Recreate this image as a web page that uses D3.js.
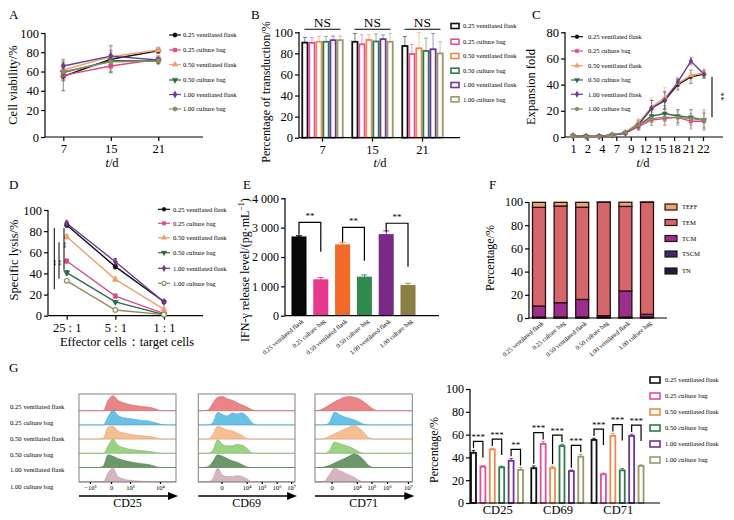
<!DOCTYPE html>
<html><head><meta charset="utf-8">
<script src="https://cdn.jsdelivr.net/npm/d3@7"></script>
<style>body{margin:0;background:#fff}</style>
</head><body><svg id="c" width="734" height="520"></svg>
<script>
// ---------------- DATA ----------------
const groups = ["0.25 ventilated flask","0.25 culture bag","0.50 ventilated flask","0.50 culture bag","1.00 ventilated flask","1.00 culture bag"];
// A: cell viability
const daysA = ["7","15","21"];
const viability = [[55,72.7,81.6],[56,65.7,72.7],[61.6,75.4,82.3],[58.8,71.2,71],[65.7,76,72],[59.8,70,71]];
const viabilityErr = [[15,14,3],[6,5,4],[10,12,3],[8,6,3],[7,6,3],[8,10,3]];
// B: transduction
const daysB = ["7","15","21"];
const transduction = [[90.2,91,87],[90,88.6,79.4],[91,92.7,84.8],[91,91.3,82.3],[92.5,93.5,83.9],[92.5,91,80]];
const transductionErr = [[5,8,9],[5,9,9],[5,5,15],[5,7,12],[4,4,15],[4,8,11]];
const sigB = ["NS","NS","NS"];
// C: expansion
const daysC = ["1","2","4","7","9","12","15","18","21","22"];
const expansion = [
  [1,0.5,0.5,1.5,3,10,22,28,40,46,48],
  [1,0.5,0.5,1.5,3,8,13,14,15,12,12],
  [1,0.5,0.5,1.5,3.5,11,23,30,41,47,49],
  [1,0.5,0.5,1.5,3,9,16,18,16,15,13],
  [1,0.5,0.5,1.5,3,9,22,28,42,58,48],
  [1,0.5,0.5,1.5,3.5,9,14,15,15,14,13]];
const expansionErr = [
  [0.5,0.3,0.3,0.5,1,3,6,7,4,5,3],
  [0.5,0.3,0.3,0.5,1,3,4,5,5,6,6],
  [0.5,0.3,0.3,0.5,1,3,7,8,4,4,3],
  [0.5,0.3,0.3,0.5,1,3,5,6,5,6,6],
  [0.5,0.3,0.3,0.5,1,3,6,6,3,3,3],
  [0.5,0.3,0.3,0.5,1,3,5,6,6,7,8]];
// D: cytotoxicity
const ratios = ["25 : 1","5 : 1","1 : 1"];
const lysis = [[85.8,46.4,13.2],[51.7,18.6,2],[74.7,34.4,6],[40.7,13,1],[87.4,51,13],[33,5.4,1]];
const lysisErr = [[2,2,1],[2,2,1],[2,2,1],[2,1,1],[2,3,1],[1,1,1]];
// E: IFN-gamma
const ifn = [2700,1240,2430,1330,2780,1045];
const ifnErr = [25,60,70,60,110,60];
const ifnBrackets = [[0,1,3180,2760,2180,"**"],[2,3,3010,2520,1870,"**"],[4,5,3150,2860,1670,"**"]];
// F: subsets
const subsetNames = ["TN","TSCM","TCM","TEM","TEFF"];
const TN   = [0.3,0.3,0.3,0.3,0.3,0.3];
const TSCM = [0.5,0.5,0.5,0.5,0.5,0.5];
const TCM  = [9.5,12.4,15.2,1.2,22.5,2.4];
const TEM  = [85.1,83.3,79.5,97.7,72.9,96.5];
const TEFF = [4.3,3.2,4.2,0.3,3.6,0.3];
// G: activation markers
const markers = ["CD25","CD69","CD71"];
const activation = [[44,30.5,55.3],[31.8,51.8,25.2],[47,30.5,58.8],[31.3,50,28.6],[37,28,58.8],[29,40.6,32.5]];
const activationErr = [[2,2,1.5],[1,2,1],[1,1.5,2],[1,1.5,1.5],[2,1,1.5],[2,2,1]];
const sigG = [["***","***","**"],["***","***","***"],["***","***","***"]];
// G: histogram densities (21 points across each plot)
const cd25Density = [
 [0,0,0,0,0,0,0.7,1.0,0.7,0.55,0.45,0.38,0.33,0.28,0.25,0.2,0.1,0,0,0,0],
 [0,0,0,0,0,0,0.55,1.0,0.65,0.5,0.45,0.4,0.35,0.3,0.28,0.2,0.12,0.03,0,0,0],
 [0,0,0,0,0,0.05,0.8,0.85,0.55,0.42,0.35,0.3,0.25,0.22,0.2,0.15,0.08,0,0,0,0],
 [0,0,0,0,0,0,0.5,0.95,0.55,0.4,0.3,0.25,0.2,0.18,0.15,0.1,0.03,0,0,0,0],
 [0,0,0,0,0,0.1,0.85,0.75,0.6,0.5,0.42,0.35,0.3,0.25,0.22,0.15,0.05,0,0,0,0],
 [0,0,0,0,0,0,0.6,0.9,0.35,0.2,0.12,0.08,0.05,0.03,0.02,0,0,0,0,0,0]];
const cd69Density = [
 [0,0,0.05,0.5,0.9,0.95,0.8,0.7,0.55,0.4,0.25,0.08,0,0,0,0,0,0,0,0,0],
 [0,0,0,0.15,0.85,0.7,0.6,0.8,0.75,0.8,0.6,0.2,0,0,0,0,0,0,0,0,0],
 [0,0,0,0.3,0.85,0.75,0.6,0.55,0.4,0.25,0.05,0,0,0,0,0,0,0,0,0,0],
 [0,0,0,0.2,0.9,0.6,0.5,0.5,0.6,0.55,0.35,0.05,0,0,0,0,0,0,0,0,0],
 [0,0,0.05,0.4,0.85,0.75,0.6,0.45,0.35,0.2,0.05,0,0,0,0,0,0,0,0,0,0],
 [0,0,0,0.2,0.9,0.45,0.35,0.35,0.4,0.35,0.2,0,0,0,0,0,0,0,0,0,0]];
const cd71Density = [
 [0,0.05,0.2,0.4,0.6,0.75,0.9,0.95,0.9,0.8,0.6,0.35,0.1,0,0,0,0,0,0,0,0],
 [0,0,0,0.2,0.85,0.7,0.55,0.45,0.35,0.2,0.05,0,0,0,0,0,0,0,0,0,0],
 [0,0,0.05,0.2,0.35,0.5,0.65,0.8,0.9,0.75,0.45,0.1,0,0,0,0,0,0,0,0,0],
 [0,0,0,0.2,0.75,0.65,0.55,0.45,0.3,0.1,0,0,0,0,0,0,0,0,0,0,0],
 [0,0,0.05,0.15,0.3,0.45,0.6,0.75,0.9,0.8,0.5,0.15,0,0,0,0,0,0,0,0,0],
 [0,0,0.05,0.5,0.9,0.75,0.6,0.45,0.3,0.1,0,0,0,0,0,0,0,0,0,0,0]];
const histTicks = [
 [["−10³",0.113],["0",0.33],["10³",0.526],["10⁴",0.835]],
 [["0",0.24],["10⁴",0.5],["10⁵",0.656],["10⁶",0.81],["10⁷",0.96]],
 [["0",0.17],["10⁴",0.43],["10⁵",0.58],["10⁶",0.74],["10⁷",0.955]]];

// ---------------- STYLE ----------------
const serif = "'Liberation Serif','DejaVu Serif','Times New Roman',serif";
const lineColors = ["#111111","#dc4c8a","#efa071","#2f6a48","#6b3c8c","#8d8c5e"];
const barColorsE = ["#070707","#e8398c","#f26a2a","#2f8a50","#7a2a86","#8c7f45"];
const outlineColors = ["#111111","#e0509a","#f08a50","#2e7a50","#6e3496","#9b9868"];
const subsetColors = ["#1e1e3c","#3c2c6c","#9c2e8c","#d4676b","#e9a66e"];
const histColors = ["#e8797c","#5cbde3","#f7b98a","#93cf78","#5f8f5c","#d3b0b8"];
const histStroke = ["#c45a5d","#3c9cc3","#d99a6a","#73af58","#3f6f3c","#b3909a"];

const svg = d3.select("#c");
svg.append("rect").attr("width",734).attr("height",520).attr("fill","#fff");

function styleAx(sel, fs){
  sel.attr("font-family", serif).attr("font-size", fs);
  sel.selectAll(".domain").remove();
  sel.selectAll(".tick line").attr("stroke","#000").attr("stroke-width",1.2);
  sel.selectAll(".tick text").attr("fill","#000");
}
function ln(g,x1,y1,x2,y2,c="#000",w=1.2){
  return g.append("line").attr("x1",x1).attr("y1",y1).attr("x2",x2).attr("y2",y2).attr("stroke",c).attr("stroke-width",w);
}
function txt(g,x,y,s,fs,anchor="middle",rot=null){
  const t = g.append("text").attr("x",x).attr("y",y).attr("font-family",serif).attr("font-size",fs).attr("text-anchor",anchor).attr("fill","#000").text(s);
  if(rot!==null) t.attr("transform",`rotate(${rot},${x},${y})`);
  return t;
}
const symTypes=[d3.symbolCircle,d3.symbolSquare,d3.symbolTriangle,d3.symbolTriangle,d3.symbolDiamond,d3.symbolCircle];
function marker(g,x,y,i,size,openLast){
  const open = openLast && i===5;
  g.append("path").attr("d",d3.symbol(symTypes[i],size)())
   .attr("transform",`translate(${x},${y})${i===3?" rotate(180)":""}`)
   .attr("fill",open?"#fff":lineColors[i]).attr("stroke",lineColors[i]).attr("stroke-width",open?1.1:0.4);
}
function errBar(g,x,y1,y2,c,cap,w=0.9){
  ln(g,x,y1,x,y2,c,w); ln(g,x-cap/2,y1,x+cap/2,y1,c,w); ln(g,x-cap/2,y2,x+cap/2,y2,c,w);
}
function lineLegend(g,mx,rows,tx,size,fs,openLast){
  groups.forEach((name,i)=>{
    ln(g,mx-6,rows[i],mx+6,rows[i],lineColors[i],1.2);
    marker(g,mx,rows[i],i,size,openLast);
    txt(g,tx,rows[i]+2.3,name,fs,"start");
  });
}
function panelLetter(x,y,s){ txt(svg,x,y,s,13,"start"); }
function tdLabel(g,x,y){
  const t = txt(g,x,y,"",12.5);
  t.append("tspan").attr("font-style","italic").text("t");
  t.append("tspan").text("/d");
}

// ---------------- A ----------------
{
  const g = svg.append("g");
  panelLetter(9,19,"A");
  const x = d3.scalePoint().domain(daysA).range([63.3,158.3]);
  const y = d3.scaleLinear().domain([-8,100]).range([137,33]);
  g.append("g").attr("transform","translate(45,0)")
   .call(d3.axisLeft(y).tickValues([-8,20,40,60,80,100]).tickFormat(d=>d<0?"0":d).tickSize(4).tickPadding(2)).call(styleAx,12.5);
  g.append("g").attr("transform","translate(0,137)")
   .call(d3.axisBottom(x).tickSize(4).tickPadding(3)).call(styleAx,12.5);
  ln(g,45,33,45,137); ln(g,45,137,203,137);
  viability.forEach((s,i)=>s.forEach((v,j)=>errBar(g,x(daysA[j]),y(v-viabilityErr[i][j]),y(v+viabilityErr[i][j]),d3.color(lineColors[i]).copy({opacity:0.55}),4)));
  viability.forEach((s,i)=>{
    g.append("path").datum(s).attr("d",d3.line().x((v,j)=>x(daysA[j])).y(v=>y(v)))
     .attr("fill","none").attr("stroke",lineColors[i]).attr("stroke-width",1.4);
  });
  viability.forEach((s,i)=>s.forEach((v,j)=>marker(g,x(daysA[j]),y(v),i,18)));
  lineLegend(g,175,[35,50,64.5,80,94.5,109],183,15,6.6,false);
  txt(g,17,85,"Cell viability/%",12.5,"middle",-90);
  tdLabel(g,112,167);
}

// ---------------- B ----------------
{
  const g = svg.append("g");
  panelLetter(251,19,"B");
  const xg = d3.scaleBand().domain(daysB).range([298,447]).paddingInner(0.12).paddingOuter(0.05);
  const xs = d3.scaleBand().domain(d3.range(6)).range([0,xg.bandwidth()]).padding(0.25);
  const y = d3.scaleLinear().domain([0,100]).range([137.7,32.3]);
  g.append("g").attr("transform","translate(299,0)")
   .call(d3.axisLeft(y).tickValues([0,20,40,60,80,100]).tickSize(4).tickPadding(2)).call(styleAx,12.5);
  g.append("g").attr("transform","translate(0,137.7)")
   .call(d3.axisBottom(xg).tickSize(4).tickPadding(3)).call(styleAx,12.5);
  transduction.forEach((s,i)=>s.forEach((v,j)=>{
    const bx = xg(daysB[j])+xs(i), cx = bx+xs.bandwidth()/2;
    errBar(g,cx,y(v),y(v+transductionErr[i][j]),d3.color(outlineColors[i]).copy({opacity:0.6}),4);
    g.append("rect").attr("x",bx).attr("y",y(v)).attr("width",xs.bandwidth()).attr("height",y(0)-y(v))
     .attr("fill","#fff").attr("stroke",outlineColors[i]).attr("stroke-width",1.8);
  }));
  ln(g,299,32,299,137.7); ln(g,299,137.7,460,137.7);
  daysB.forEach((d,j)=>{
    ln(g,xg(d)+4,29.3,xg(d)+xg.bandwidth()-4,29.3,"#000",1.1);
    txt(g,xg(d)+xg.bandwidth()/2,26.5,sigB[j],13.5);
  });
  const rows=[26,41.7,56,70.7,85,99.3];
  groups.forEach((n,i)=>{
    g.append("rect").attr("x",451).attr("y",rows[i]-2.5).attr("width",8).attr("height",5)
     .attr("fill","#fff").attr("stroke",outlineColors[i]).attr("stroke-width",1.6);
    txt(g,463,rows[i]+2.3,n,6.6,"start");
  });
  txt(g,270,92,"Percentage of transduction/%",12,"middle",-90);
  tdLabel(g,380,167);
}

// ---------------- C ----------------
{
  const g = svg.append("g");
  panelLetter(532,19,"C");
  const x = d3.scaleLinear().domain([0,10]).range([573,704]);
  const xl = d3.scalePoint().domain(daysC).range([573,703]);
  const y = d3.scaleLinear().domain([0,80]).range([137,32.3]);
  g.append("g").attr("transform","translate(565,0)")
   .call(d3.axisLeft(y).tickValues([0,20,40,60,80]).tickSize(4).tickPadding(2)).call(styleAx,12.5);
  g.append("g").attr("transform","translate(0,137)")
   .call(d3.axisBottom(xl).tickSize(4).tickPadding(3)).call(styleAx,12.5);
  ln(g,565,32,565,137); ln(g,565,137,723,137);
  expansion.forEach((s,i)=>s.forEach((v,j)=>errBar(g,x(j),y(Math.max(0,v-expansionErr[i][j])),y(v+expansionErr[i][j]),d3.color(lineColors[i]).copy({opacity:0.5}),3.5)));
  expansion.forEach((s,i)=>{
    g.append("path").datum(s).attr("d",d3.line().x((v,j)=>x(j)).y(v=>y(v)))
     .attr("fill","none").attr("stroke",lineColors[i]).attr("stroke-width",1.4);
  });
  expansion.forEach((s,i)=>s.forEach((v,j)=>marker(g,x(j),y(v),i,12)));
  lineLegend(g,577,[36.7,51,65.7,80,94.3,109],588,12,6.6,false);
  ln(g,712,y(46),712,y(15),"#000",1.1);
  txt(g,718,y(31),"**",9,"middle",90);
  txt(g,535,87,"Expansion fold",12.5,"middle",-90);
  tdLabel(g,643,167);
}

// ---------------- D ----------------
{
  const g = svg.append("g");
  panelLetter(9,189,"D");
  const x = d3.scalePoint().domain(ratios).range([66.7,164]);
  const y = d3.scaleLinear().domain([0,100]).range([315.7,210]);
  g.append("g").attr("transform","translate(48,0)")
   .call(d3.axisLeft(y).tickValues([0,20,40,60,80,100]).tickSize(4).tickPadding(2)).call(styleAx,12.5);
  g.append("g").attr("transform","translate(0,315.7)")
   .call(d3.axisBottom(x).tickSize(4).tickPadding(3)).call(styleAx,12.5);
  ln(g,48,210,48,315.7); ln(g,48,315.7,203,315.7);
  lysis.forEach((s,i)=>s.forEach((v,j)=>errBar(g,x(ratios[j]),y(Math.max(0,v-lysisErr[i][j])),y(v+lysisErr[i][j]),lineColors[i],3.5)));
  lysis.forEach((s,i)=>{
    g.append("path").datum(s).attr("d",d3.line().x((v,j)=>x(ratios[j])).y(v=>y(v)))
     .attr("fill","none").attr("stroke",lineColors[i]).attr("stroke-width",1.4);
  });
  lysis.forEach((s,i)=>s.forEach((v,j)=>marker(g,x(ratios[j]),y(v),i,17,true)));
  lineLegend(g,164,[209.3,223.3,237.7,252.7,268.3,283.3],173,13,6.6,true);
  // significance marks
  ln(g,54.3,y(83),54.3,y(25),"#000",1); txt(g,52,y(50),"**",6,"middle",90);
  ln(g,59,y(69.5),59,y(35),"#000",1);   txt(g,57,y(50),"**",6,"middle",90);
  ln(g,64,y(83),64,y(43),"#000",1);     txt(g,62,y(67),"**",6,"middle",90);
  txt(g,18,260,"Specific lysis/%",12.5,"middle",-90);
  txt(g,127,346,"Effector cells：target cells",12.5);
}

// ---------------- E ----------------
{
  const g = svg.append("g");
  panelLetter(243,189,"E");
  const x = d3.scaleBand().domain(groups).range([288.2,418.8]).paddingInner(0.31).paddingOuter(0.15);
  const y = d3.scaleLinear().domain([0,4000]).range([315.7,198.3]);
  g.append("g").attr("transform","translate(285,0)")
   .call(d3.axisLeft(y).tickValues([0,1000,2000,3000,4000]).tickFormat(d=>d===0?"0":d3.format(",")(d).replace(","," ")).tickSize(4).tickPadding(2)).call(styleAx,12);
  groups.forEach((n,i)=>{
    const cx = x(n)+x.bandwidth()/2;
    errBar(g,cx,y(ifn[i]-ifnErr[i]),y(ifn[i]+ifnErr[i]),d3.color(barColorsE[i]).brighter(0.4),6,1);
    g.append("rect").attr("x",x(n)).attr("y",y(ifn[i])).attr("width",x.bandwidth()).attr("height",y(0)-y(ifn[i])).attr("fill",barColorsE[i]);
    txt(g,cx+5,322,n,6.3,"end",-40);
  });
  ln(g,285,198,285,315.7); ln(g,285,315.7,439,315.7);
  ifnBrackets.forEach(b=>{
    const x1 = x(groups[b[0]])+x.bandwidth()/2, x2 = x(groups[b[1]])+x.bandwidth()/2;
    g.append("path").attr("d",`M${x1},${y(b[3])}V${y(b[2])}H${x2}V${y(b[4])}`).attr("fill","none").attr("stroke","#000").attr("stroke-width",1.2);
    txt(g,(x1+x2)/2,y(b[2])-3,b[5],9);
  });
  const t = txt(g,249,270,"IFN-γ release level/(pg·mL",12,"middle",-90);
  t.append("tspan").attr("font-size",8).attr("dy",-5).text("−1");
  t.append("tspan").attr("dy",5).text(")");
}

// ---------------- F ----------------
{
  const g = svg.append("g");
  panelLetter(489,189,"F");
  const x = d3.scaleBand().domain(groups).range([528.2,657.8]).paddingInner(0.4).paddingOuter(0.2);
  const y = d3.scaleLinear().domain([0,100]).range([318,202]);
  g.append("g").attr("transform","translate(529,0)")
   .call(d3.axisLeft(y).tickValues([0,20,40,60,80,100]).tickSize(4).tickPadding(2)).call(styleAx,12);
  const rowsData = groups.map((n,i)=>({name:n,TN:TN[i],TSCM:TSCM[i],TCM:TCM[i],TEM:TEM[i],TEFF:TEFF[i]}));
  const stack = d3.stack().keys(subsetNames)(rowsData);
  stack.forEach((layer,k)=>{
    layer.forEach(d=>{
      g.append("rect").attr("x",x(d.data.name)).attr("y",y(d[1])).attr("width",x.bandwidth()).attr("height",Math.max(0,y(d[0])-y(d[1])))
       .attr("fill",subsetColors[k]).attr("stroke","#2a0f10").attr("stroke-width",1.3);
    });
  });
  groups.forEach(n=>txt(g,x(n)+x.bandwidth()/2+5,324,n,6.3,"end",-40));
  ln(g,529,202,529,318); ln(g,529,318,667,318);
  const legRows = [207,222.5,238.5,254,271];
  ["TEFF","TEM","TCM","TSCM","TN"].forEach((k,r)=>{
    const idx = subsetNames.indexOf(k);
    g.append("rect").attr("x",665).attr("y",legRows[r]-3).attr("width",12).attr("height",6).attr("fill",subsetColors[idx]).attr("stroke","#2a0f10").attr("stroke-width",1.2);
    txt(g,682,legRows[r]+2.3,k,6.6,"start");
  });
  txt(g,494,258,"Percentage/%",12,"middle",-90);
}

// ---------------- G (histograms) ----------------
{
  const g = svg.append("g");
  panelLetter(9,372,"G");
  const rowY = [406.7,422.7,438.3,454.3,470,486.7];
  groups.forEach((n,i)=>txt(g,10,rowY[i]+2.3,n,6.7,"start"));
  const boxes = [[79,176,"CD25"],[198.3,295,"CD69"],[315,412.3,"CD71"]];
  const dens = [cd25Density,cd69Density,cd71Density];
  const top = 394, bot = 482;
  const base = d3.range(6).map(r=>top+16.7+r*14.2);
  boxes.forEach((b,p)=>{
    const hx = d3.scaleLinear().domain([0,1]).range([b[0],b[1]]);
    base.forEach(by=>ln(g,b[0],by,b[1],by,"#d8d8d8",0.7));
    dens[p].forEach((row,r)=>{
      const area = d3.area().x((d,k)=>hx(k/20)).y0(base[r]).y1(d=>base[r]-d*15).curve(d3.curveMonotoneX);
      g.append("path").datum(row).attr("d",area).attr("fill",histColors[r]).attr("fill-opacity",0.92)
       .attr("stroke",histStroke[r]).attr("stroke-width",0.5);
    });
    g.append("rect").attr("x",b[0]).attr("y",top).attr("width",b[1]-b[0]).attr("height",bot-top)
     .attr("fill","none").attr("stroke","#808080").attr("stroke-width",1);
    const ax = g.append("g").attr("transform",`translate(0,${bot})`)
     .call(d3.axisBottom(hx).tickValues(histTicks[p].map(t=>t[1])).tickFormat((d,k)=>histTicks[p][k][0]).tickSize(2).tickPadding(1.5));
    styleAx(ax,6.5);
    ln(g,b[0],496,b[1]-4,496,"#000",1.3);
    g.append("path").attr("d",`M${b[1]+2},496 L${b[1]-8},492 L${b[1]-8},500 Z`).attr("fill","#000");
    txt(g,(b[0]+b[1])/2,507,b[2],12);
  });
}

// ---------------- G (bars) ----------------
{
  const g = svg.append("g");
  const xg = d3.scaleBand().domain(markers).range([470,646]).paddingInner(0.08).paddingOuter(0);
  const xs = d3.scaleBand().domain(d3.range(6)).range([0,54]).paddingInner(0.47).paddingOuter(0.106);
  const y = d3.scaleLinear().domain([0,100]).range([503,389]);
  g.append("g").attr("transform","translate(470,0)")
   .call(d3.axisLeft(y).tickValues([0,20,40,60,80,100]).tickSize(4).tickPadding(2)).call(styleAx,12);
  activation.forEach((s,i)=>s.forEach((v,j)=>{
    const bx = xg(markers[j])+xs(i), cx = bx+xs.bandwidth()/2;
    errBar(g,cx,y(v),y(v+activationErr[i][j]),outlineColors[i],3.5);
    g.append("rect").attr("x",bx).attr("y",y(v)).attr("width",xs.bandwidth()).attr("height",y(0)-y(v))
     .attr("fill","#fff").attr("stroke",outlineColors[i]).attr("stroke-width",1.8);
  }));
  markers.forEach((m,j)=>{
    for(let p=0;p<3;p++){
      const a=2*p, b=2*p+1;
      const va = activation[a][j]+activationErr[a][j], vb = activation[b][j]+activationErr[b][j];
      const topV = Math.max(va,vb)+8;
      const x1 = xg(m)+xs(a)+xs.bandwidth()/2, x2 = xg(m)+xs(b)+xs.bandwidth()/2;
      g.append("path").attr("d",`M${x1},${y(va+2)}V${y(topV)}H${x2}V${y(Math.max(vb+2,topV-14))}`)
       .attr("fill","none").attr("stroke","#000").attr("stroke-width",1.2);
      txt(g,(x1+x2)/2,y(topV)-1.5,sigG[j][p],9);
    }
    txt(g,xg(m)+xg.bandwidth()/2,514,m,12.5);
  });
  ln(g,470,389,470,503); ln(g,470,503,660,503);
  const rows=[380,396,412,428,444,460];
  groups.forEach((n,i)=>{
    g.append("rect").attr("x",650).attr("y",rows[i]-3).attr("width",10).attr("height",6)
     .attr("fill","#fff").attr("stroke",outlineColors[i]).attr("stroke-width",1.6);
    txt(g,665,rows[i]+2.3,n,6.6,"start");
  });
  txt(g,438,450,"Percentage/%",12,"middle",-90);
}
</script></body></html>
